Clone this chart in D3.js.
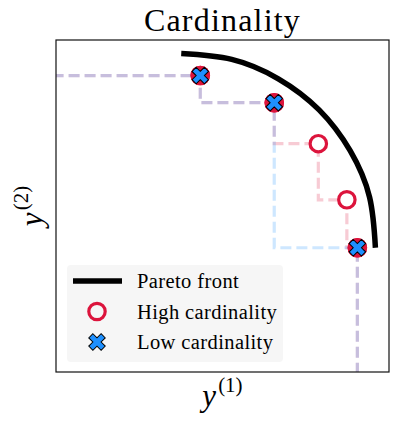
<!DOCTYPE html>
<html>
<head>
<meta charset="utf-8">
<script src="https://cdn.jsdelivr.net/npm/d3@7"></script>
<style>
  body { margin: 0; background: #fff; }
  svg text { font-family: "Liberation Serif", "DejaVu Serif", serif; fill: #000; }
</style>
</head>
<body>
<div id="chart"></div>
<script>
// Pareto front (quarter circle)
const frontX = [0.0, 0.26, 0.5, 0.71, 0.87, 0.97, 1.0];
const frontY = [1.0, 0.97, 0.87, 0.71, 0.5, 0.26, 0.0];

// High cardinality set
const highX = [0.098, 0.479, 0.706, 0.853, 0.907];
const highY = [0.887, 0.747, 0.536, 0.247, 0.0];

// Low cardinality set
const lowX = [0.098, 0.479, 0.907];
const lowY = [0.887, 0.747, 0.0];

const legendLabels = ["Pareto front", "High cardinality", "Low cardinality"];

const red = "#dc143c";
const blue = "#1e90ff";

// Dimensions
const W = 399, H = 429;
const margin = { top: 40, right: 10, bottom: 57, left: 56 };
const width = W - margin.left - margin.right;
const height = H - margin.top - margin.bottom;

const x = d3.scaleLinear().domain([-0.645, 1.07]).range([0, width]);
const y = d3.scaleLinear().domain([-0.64, 1.07]).range([height, 0]);

const svg = d3.select("#chart").append("svg")
  .attr("width", W).attr("height", H);

svg.append("defs").append("clipPath").attr("id", "clip")
  .append("rect").attr("width", width).attr("height", height);

const g = svg.append("g")
  .attr("transform", `translate(${margin.left},${margin.top})`);

const plot = g.append("g").attr("clip-path", "url(#clip)");

// Staircase (attainment) lines for each set
function stairs(xs, ys) {
  const pts = xs.map((d, i) => [d, ys[i]]);
  const [x0] = x.domain();
  const [y0] = y.domain();
  return [[x0 - 0.1, ys[0]], ...pts, [xs[xs.length - 1], y0 - 0.1]];
}
const step = d3.line().x(d => x(d[0])).y(d => y(d[1])).curve(d3.curveStepBefore);

[[highX, highY, red], [lowX, lowY, blue]].forEach(([xs, ys, c]) => {
  plot.append("path")
    .attr("d", step(stairs(xs, ys)))
    .attr("fill", "none")
    .attr("stroke", c)
    .attr("stroke-opacity", 0.22)
    .attr("stroke-width", 3.2)
    .attr("stroke-dasharray", "11,5");
});

// Pareto front
const front = d3.line().x(d => x(d[0])).y(d => y(d[1])).curve(d3.curveNatural);
plot.append("path")
  .attr("d", front(frontX.map((d, i) => [d, frontY[i]])))
  .attr("fill", "none")
  .attr("stroke", "#000")
  .attr("stroke-width", 5.5);

// High cardinality markers
g.selectAll(".high")
  .data(highX.map((d, i) => [d, highY[i]]))
  .join("circle")
  .attr("class", "high")
  .attr("cx", d => x(d[0]))
  .attr("cy", d => y(d[1]))
  .attr("r", 8.2)
  .attr("fill", "#fff")
  .attr("stroke", red)
  .attr("stroke-width", 3.2);

// Low cardinality markers
const xSym = d3.symbol().type(d3.symbolCross).size(170);
const lowPts = lowX.map((d, i) => [d, lowY[i]]);
g.selectAll(".lowbg")
  .data(lowPts)
  .join("circle")
  .attr("class", "lowbg")
  .attr("cx", d => x(d[0]))
  .attr("cy", d => y(d[1]))
  .attr("r", 9.8)
  .attr("fill", red);
g.selectAll(".low")
  .data(lowPts)
  .join("path")
  .attr("class", "low")
  .attr("d", xSym)
  .attr("transform", d => `translate(${x(d[0])},${y(d[1])}) rotate(45)`)
  .attr("fill", blue)
  .attr("stroke", "#000")
  .attr("stroke-width", 1);

// Frame
g.append("rect")
  .attr("width", width).attr("height", height)
  .attr("fill", "none").attr("stroke", "#111").attr("stroke-width", 1.2);

// Legend
const legend = g.append("g").attr("transform", "translate(11,225)");
legend.append("rect")
  .attr("width", 216).attr("height", 97).attr("rx", 4)
  .attr("fill", "#f6f6f6");

legendLabels.forEach((label, i) => {
  const row = legend.append("g").attr("transform", `translate(0,${16 + i * 30.5})`);
  if (i === 0) {
    row.append("line")
      .attr("x1", 6).attr("x2", 55)
      .attr("stroke", "#000").attr("stroke-width", 5.5);
  } else if (i === 1) {
    row.append("circle").attr("cx", 30).attr("r", 8.2)
      .attr("fill", "none").attr("stroke", red).attr("stroke-width", 3.2);
  } else {
    row.append("path").attr("d", xSym)
      .attr("transform", "translate(30,0) rotate(45)")
      .attr("fill", blue).attr("stroke", "#000").attr("stroke-width", 1);
  }
  row.append("text")
    .attr("x", 70).attr("y", 7)
    .style("font-size", "20.5px")
    .style("letter-spacing", "0.4px")
    .text(label);
});

// Title
svg.append("text")
  .attr("x", margin.left + width / 2)
  .attr("y", 31)
  .attr("text-anchor", "middle")
  .style("font-size", "32px")
  .style("letter-spacing", "1.2px")
  .text("Cardinality");

// Axis labels
function axisLabel(sel, sup) {
  sel.append("tspan").style("font-style", "italic").style("font-size", "31px").text("y");
  sel.append("tspan").attr("dy", -14).attr("dx", 2).style("font-size", "21px").text(sup);
}

const xl = svg.append("text")
  .attr("x", margin.left + width / 2)
  .attr("y", 406)
  .attr("text-anchor", "middle");
axisLabel(xl, "(1)");

const yl = svg.append("text")
  .attr("transform", `translate(42,${margin.top + height / 2}) rotate(-90)`)
  .attr("text-anchor", "middle");
axisLabel(yl, "(2)");
</script>
</body>
</html>
